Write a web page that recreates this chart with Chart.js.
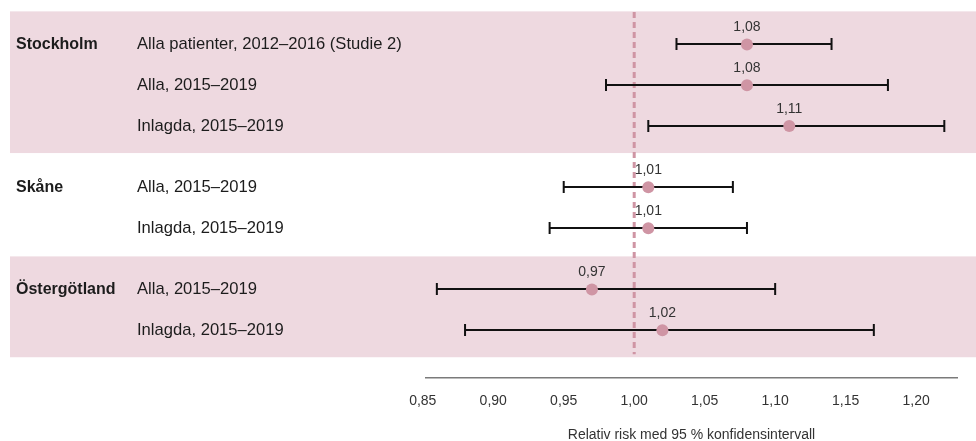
<!DOCTYPE html>
<html lang="sv">
<head>
<meta charset="utf-8">
<title>Relativ risk med 95 % konfidensintervall</title>
<script src="https://cdn.jsdelivr.net/npm/chart.js@4.4.1/dist/chart.umd.min.js"></script>
<style>
  html, body { margin: 0; padding: 0; background: #ffffff; }
  #wrap { width: 976px; height: 441px; }
</style>
</head>
<body>
<div id="wrap"><canvas id="forest" width="976" height="441"></canvas></div>
<script>
// Regions and the studied populations (one row each)
const groups = ['Stockholm', 'Skåne', 'Östergötland'];
const rowGroup = [0, 0, 0, 1, 1, 2, 2];
const rowLabels = [
  'Alla patienter, 2012–2016 (Studie 2)',
  'Alla, 2015–2019',
  'Inlagda, 2015–2019',
  'Alla, 2015–2019',
  'Inlagda, 2015–2019',
  'Alla, 2015–2019',
  'Inlagda, 2015–2019'
];

// Relative risk with lower / upper 95 % confidence limits
const estimate = [1.08, 1.08, 1.11, 1.01, 1.01, 0.97, 1.02];
const lower    = [1.03, 0.98, 1.01, 0.95, 0.94, 0.86, 0.88];
const upper    = [1.14, 1.18, 1.22, 1.07, 1.08, 1.10, 1.17];

// x-axis tick values
const xTicks = [0.85, 0.90, 0.95, 1.00, 1.05, 1.10, 1.15, 1.20];
const nullValue = 1.00;

const PINK = '#cf95a4';
const BAND = '#eed9e0';
const TEXT = '#1c1c1c';
const FONT = "'Liberation Sans', Arial, sans-serif";

const fmt = v => v.toFixed(2).replace('.', ',');

// vertical slot for each row: two slots within a region, three between regions
const slotOf = [];
let s = 0;
rowGroup.forEach((g, i) => {
  if (i > 0) s += (g !== rowGroup[i - 1]) ? 3 : 2;
  slotOf.push(s);
});

const forestPlugin = {
  id: 'forest',
  beforeDraw(chart) {
    const { ctx, scales: { y } } = chart;
    ctx.save();
    // shaded bands behind Stockholm and Östergötland
    ctx.fillStyle = BAND;
    groups.forEach((g, gi) => {
      if (gi === 1) return;
      const slots = slotOf.filter((_, i) => rowGroup[i] === gi);
      const top = y.getPixelForValue(slots[0]) - 33;
      const bottom = y.getPixelForValue(slots[slots.length - 1]) + 27;
      ctx.fillRect(10, top, chart.width - 10, bottom - top);
    });
    // region and row labels
    ctx.textBaseline = 'middle';
    ctx.fillStyle = TEXT;
    groups.forEach((g, gi) => {
      const first = rowGroup.indexOf(gi);
      ctx.font = `bold 16px ${FONT}`;
      ctx.fillText(g, 16, y.getPixelForValue(slotOf[first]));
    });
    ctx.font = `16.6px ${FONT}`;
    rowLabels.forEach((t, i) => {
      ctx.fillText(t, 137, y.getPixelForValue(slotOf[i]));
    });
    ctx.restore();
  },
  beforeDatasetsDraw(chart) {
    const { ctx, chartArea, scales: { x, y } } = chart;
    ctx.save();
    // dashed line at RR = 1
    const xr = x.getPixelForValue(nullValue);
    ctx.strokeStyle = PINK;
    ctx.lineWidth = 3;
    ctx.setLineDash([6, 4]);
    ctx.beginPath();
    ctx.moveTo(xr, chartArea.top);
    ctx.lineTo(xr, y.getPixelForValue(slotOf[slotOf.length - 1]) + 24);
    ctx.stroke();
    ctx.setLineDash([]);
    // confidence intervals with end caps
    ctx.strokeStyle = '#111111';
    ctx.lineWidth = 2;
    estimate.forEach((_, i) => {
      const py = Math.round(y.getPixelForValue(slotOf[i]));
      const x0 = x.getPixelForValue(lower[i]);
      const x1 = x.getPixelForValue(upper[i]);
      ctx.beginPath();
      ctx.moveTo(x0, py); ctx.lineTo(x1, py);
      ctx.moveTo(x0, py - 6); ctx.lineTo(x0, py + 6);
      ctx.moveTo(x1, py - 6); ctx.lineTo(x1, py + 6);
      ctx.stroke();
    });
    ctx.restore();
  },
  afterDatasetsDraw(chart) {
    const { ctx, scales: { x, y } } = chart;
    ctx.save();
    ctx.font = `14px ${FONT}`;
    ctx.fillStyle = '#333333';
    ctx.textAlign = 'center';
    ctx.textBaseline = 'middle';
    estimate.forEach((v, i) => {
      ctx.fillText(fmt(v), x.getPixelForValue(v), y.getPixelForValue(slotOf[i]) - 17);
    });
    ctx.restore();
  }
};

new Chart(document.getElementById('forest'), {
  type: 'scatter',
  data: {
    datasets: [{
      data: estimate.map((v, i) => ({ x: v, y: slotOf[i] })),
      backgroundColor: PINK,
      borderWidth: 0,
      pointRadius: 6,
      pointHoverRadius: 6,
      clip: false
    }]
  },
  options: {
    responsive: false,
    animation: false,
    events: [],
    layout: { padding: { left: 426, right: 19, top: 12, bottom: -3 } },
    plugins: {
      legend: { display: false },
      tooltip: { enabled: false }
    },
    scales: {
      x: {
        type: 'linear',
        min: 0.8523,
        max: 1.229,
        afterBuildTicks: scale => { scale.ticks = xTicks.map(v => ({ value: v })); },
        grid: { display: false, drawTicks: false },
        border: { display: true, color: '#7a7a7a', width: 1.5 },
        ticks: {
          padding: 15,
          color: '#333333',
          font: { family: FONT, size: 14 },
          callback: v => fmt(v),
          autoSkip: false,
          maxRotation: 0
        },
        title: {
          display: true,
          text: 'Relativ risk med 95 % konfidensintervall',
          color: '#333333',
          font: { family: FONT, size: 14 },
          padding: { top: 3, bottom: 0 }
        }
      },
      y: {
        type: 'linear',
        reverse: true,
        min: -1.586,
        max: 16.31,
        display: false
      }
    }
  },
  plugins: [forestPlugin]
});
</script>
</body>
</html>
